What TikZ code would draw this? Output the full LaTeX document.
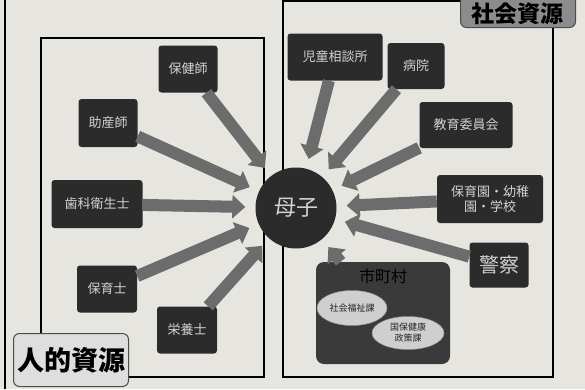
\documentclass[tikz,border=0pt]{standalone}
\usepackage{fontspec}
\setmainfont{Noto Sans CJK JP}
\usetikzlibrary{arrows.meta,shapes.geometric}
\definecolor{paper}{HTML}{E7E5DF}
\definecolor{boxc}{HTML}{2B2B2B}
\definecolor{txtc}{HTML}{D2D2D2}
\definecolor{arrc}{HTML}{6C6C6C}
\definecolor{cityc}{HTML}{3A3A3A}
\definecolor{ellc}{HTML}{CFCFCF}
\tikzset{
  res/.style={fill=boxc, rounded corners=3pt, text=txtc, inner sep=0pt,
    font=\fontsize{13}{15}\selectfont, align=center},
  arr/.style={draw=arrc, line width=12pt, -{Triangle[width=23pt,length=13pt]},
    shorten >=10pt},
  frame/.style={draw=black, line width=1.6pt},
  ell/.style={ellipse, fill=ellc, draw=ellc!70!black, line width=0.5pt, inner sep=0pt,
    text=black!85, font=\fontsize{9}{11}\selectfont, align=center},
  tag/.style={rounded corners=6pt, draw=black!70, line width=1pt, inner sep=0pt,
    font=\bfseries\fontsize{27}{29}\selectfont}
}
\begin{document}
\begin{tikzpicture}[x=1pt,y=-1pt]
\useasboundingbox (0,0) rectangle (585,389);
\clip (0,0) rectangle (585,389);
\fill[paper] (0,0) rectangle (585,389);
% frames
\draw[frame] (5,0) -- (5,389);
\draw[frame] (41,335) -- (41,38) -- (264,38) -- (264,377) -- (128,377);
\draw[frame] (460,1) -- (283,1) -- (283,377) -- (553,377) -- (553,28);
% nodes
\node[res, minimum width=59pt, minimum height=47pt] (hoken) at (188,69) {保健師};
\node[res, minimum width=59pt, minimum height=48pt] (josan) at (108,123) {助産師};
\node[res, minimum width=91pt, minimum height=48pt] (shika) at (97,204) {歯科衛生士};
\node[res, minimum width=60pt, minimum height=47pt] (hoiku) at (107,289) {保育士};
\node[res, minimum width=60pt, minimum height=47pt] (eiyo) at (187,330) {栄養士};
\node[circle, fill=boxc, minimum size=81pt, inner sep=0pt, text=txtc,
  font=\fontsize{22}{24}\selectfont] (boshi) at (296,208) {母子};
\node[res, minimum width=95pt, minimum height=47pt] (jido) at (335,57) {児童相談所};
\node[res, minimum width=57pt, minimum height=46pt] (byoin) at (416,66) {病院};
\node[res, minimum width=93pt, minimum height=46pt] (kyoiku) at (466,125) {教育委員会};
\node[res, minimum width=106pt, minimum height=48pt] (hoikuen) at (490,199) {保育園・幼稚\\園・学校};
\node[res, minimum width=59pt, minimum height=45pt, font=\fontsize{20}{22}\selectfont] (keisatsu) at (499,265) {警察};
\node[fill=cityc, rounded corners=8pt, minimum width=134pt, minimum height=102pt, inner sep=0pt] (city) at (383,313) {};
\node[text=black, font=\fontsize{16}{18}\selectfont, inner sep=0pt] (citylbl) at (383,276) {市町村};
\node[ell, minimum width=70pt, minimum height=35pt] (fukushi) at (352,308) {社会福祉課};
\node[ell, minimum width=72pt, minimum height=33pt] (kokuho) at (408,333) {国保健康\\政策課};
% arrows
\foreach \n in {hoken,josan,shika,hoiku,eiyo,jido,byoin,kyoiku,hoikuen,keisatsu,city}
  \draw[arr] (\n) -- (boshi);
% tags
\node[tag, fill=black!45, minimum width=115pt, minimum height=40pt, anchor=south west] (shakai) at (460,28) {};
\node[font=\bfseries\fontsize{23}{25}\selectfont, text=black, inner sep=0pt] (shakailbl) at (517,14) {社会資源};
\node[tag, fill=black!13, minimum width=115pt, minimum height=53pt, anchor=north west] (jinteki) at (13,333) {人的資源};
\end{tikzpicture}
\end{document}
